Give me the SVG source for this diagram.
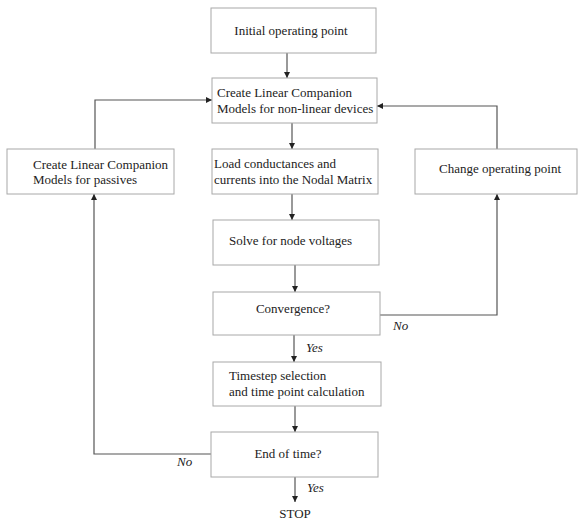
<svg xmlns="http://www.w3.org/2000/svg" width="578" height="520" viewBox="0 0 578 520">
<style>
.box{fill:#fff;stroke:#a8a8a8;stroke-width:1}
text{font-family:"Liberation Serif",serif;font-size:13px;fill:#222}
.c{text-anchor:middle}
.i{font-style:italic}
.ln{fill:none;stroke:#555;stroke-width:1.2}
</style>
<defs>
<marker id="ah" viewBox="0 0 10 10" refX="10" refY="5" markerWidth="6" markerHeight="6" orient="auto" markerUnits="userSpaceOnUse">
<path d="M0,0 L10,5 L0,10 z" fill="#222"/>
</marker>
</defs>
<rect width="578" height="520" fill="#fff"/>
<g id="connectors">
<path class="ln" d="M287,53 V78" marker-end="url(#ah)"/>
<path class="ln" d="M292,123 V149" marker-end="url(#ah)"/>
<path class="ln" d="M292,194 V220" marker-end="url(#ah)"/>
<path class="ln" d="M295,265 V292" marker-end="url(#ah)"/>
<path class="ln" d="M294,335 V362" marker-end="url(#ah)"/>
<path class="ln" d="M295,406 V432" marker-end="url(#ah)"/>
<path class="ln" d="M295,477 V502" marker-end="url(#ah)"/>
<path class="ln" d="M95,149 V100 H212" marker-end="url(#ah)"/>
<path class="ln" d="M497,149 V106 H377" marker-end="url(#ah)"/>
<path class="ln" d="M380,315 H497 V194" marker-end="url(#ah)"/>
<path class="ln" d="M211,454 H94 V194" marker-end="url(#ah)"/>
<text class="i" x="306" y="352">Yes</text>
<text class="i" x="393" y="330">No</text>
<text class="i" x="177" y="466">No</text>
<text class="i" x="307" y="492">Yes</text>
</g>
<g id="n1"><rect class="box" x="211" y="8" width="165" height="45"/><text class="c" x="291" y="35">Initial operating point</text></g>
<g id="n2"><rect class="box" x="212" y="78" width="165" height="45"/><text x="217" y="97">Create Linear Companion</text><text x="217" y="113">Models for non-linear devices</text></g>
<g id="n3"><rect class="box" x="212" y="149" width="166" height="45"/><text x="214" y="168">Load conductances and</text><text x="214" y="184">currents into the Nodal Matrix</text></g>
<g id="n4"><rect class="box" x="213" y="220" width="166" height="45"/><text x="229" y="245">Solve for node voltages</text></g>
<g id="n5"><rect class="box" x="213" y="292" width="167" height="43"/><text class="c" x="293" y="313">Convergence?</text></g>
<g id="n6"><rect class="box" x="213" y="362" width="168" height="44"/><text x="229" y="380">Timestep selection</text><text x="229" y="396">and time point calculation</text></g>
<g id="n7"><rect class="box" x="211" y="432" width="167" height="45"/><text class="c" x="288" y="458">End of time?</text></g>
<g id="n8"><rect class="box" x="7" y="149" width="167" height="45"/><text x="33" y="169">Create Linear Companion</text><text x="33" y="184">Models for passives</text></g>
<g id="n9"><rect class="box" x="415" y="149" width="162" height="45"/><text class="c" x="500" y="173">Change operating point</text></g>
<g id="n10"><text class="c" x="295" y="518">STOP</text></g>
</svg>
